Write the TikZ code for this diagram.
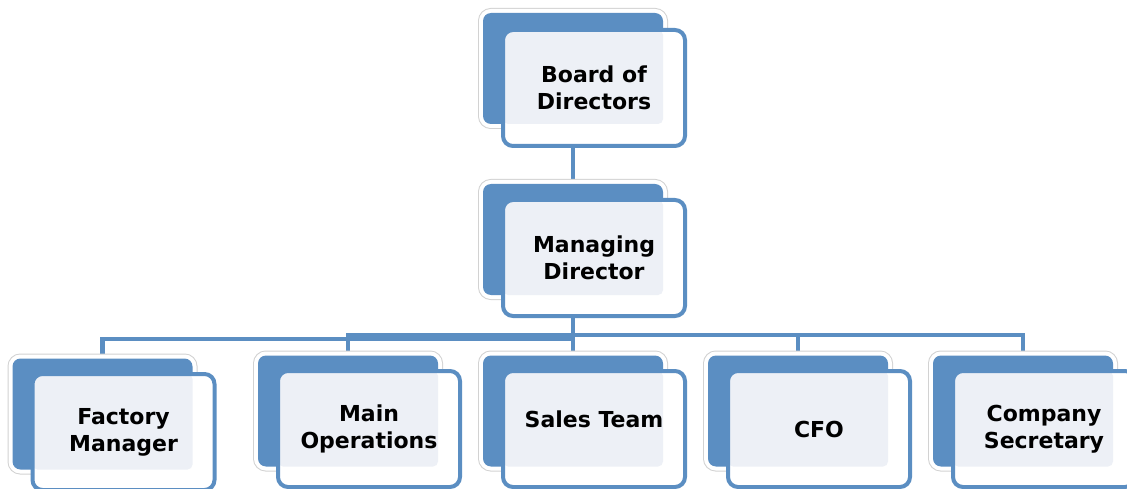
\documentclass[tikz,border=0pt]{standalone}
\usepackage{fontspec}
\setsansfont{DejaVu Sans}
\usetikzlibrary{%
  positioning,%
  calc,%
  backgrounds%
}
\definecolor{boxblue}{RGB}{91,142,194}
\definecolor{boxlight}{RGB}{237,240,246}

\begin{document}
\begin{tikzpicture}[
  x=1pt, y=-1pt,
  font=\sffamily\bfseries\fontsize{22}{27}\selectfont,
  line width=4pt,
  back/.style={rectangle, rounded corners=8pt, fill=boxblue,
    inner sep=0pt, outer sep=0pt,
    minimum width=180pt, minimum height=111pt,
    preaction={draw=gray!35, line width=10pt},
    preaction={draw=white, line width=8pt}},
  front/.style={rectangle, rounded corners=10pt, draw=boxblue, fill=white,
    line width=4pt, inner sep=0pt, outer sep=0pt, align=center,
    minimum width=182pt, minimum height=116pt,
    path picture={\fill[boxlight, rounded corners=5pt]
      (path picture bounding box.north west) rectangle (#1.south east);}},
  link/.style={draw=boxblue, line width=4.5pt},
]
\clip (0,0) rectangle (1127,489);
\useasboundingbox (0,0) rectangle (1127,489);

% top
\node[back] (bod-back) at (573,68.5) {};
\node[front=bod-back] (bod-front) at (594,88) {Board of\\Directors};

\node[back] (md-back) at (573,239.5) {};
\node[front=md-back] (md-front) at (594,258) {Managing\\Director};

% bottom row
\foreach \name/\x/\y/\txt in {%
  fm/102.5/414/{Factory\\Manager},%
  mo/348/411/{Main\\Operations},%
  st/573/411/{\raisebox{10pt}[\height][\depth]{Sales Team}},%
  cfo/798/411/{CFO},%
  cs/1023/411/{Company\\Secretary}%
} {
  \node[back] (\name-back) at (\x,\y) {};
  \node[front=\name-back] (\name-front) at (\x+21,\y+18) {\txt};
}

\begin{scope}[on background layer]
\draw[link] (bod-back.south) -- (md-back.north);
\foreach \name/\ybus in {fm/339,mo/335,st/335,cfo/335,cs/335} {
  \draw[link] (md-back.south) -- (md-back.south |- 0,\ybus) -| (\name-back.north);
}
\end{scope}

\end{tikzpicture}
\end{document}
